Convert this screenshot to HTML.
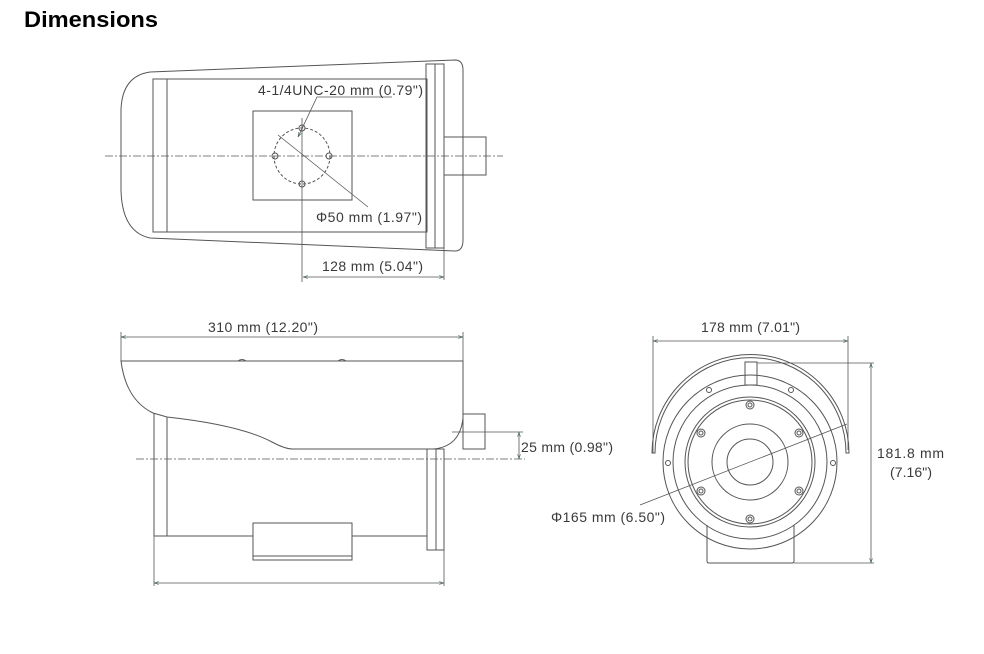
<!DOCTYPE html>
<html><head><meta charset="utf-8"><style>
html,body{margin:0;padding:0;background:#fff;}
svg{display:block;}
text{font-family:"Liberation Sans",sans-serif;fill:#3a3a3a;}
</style></head><body>
<svg width="984" height="654" viewBox="0 0 984 654" xmlns="http://www.w3.org/2000/svg">
<defs>
<marker id="a" viewBox="0 0 10 10" refX="10" refY="5" markerWidth="6" markerHeight="6" orient="auto-start-reverse"><path d="M0,2 L10,5 L0,8" fill="none" stroke="#466" stroke-width="1.2"/></marker>
</defs>
<text x="24" y="27" font-size="22" font-weight="bold" style="fill:#000" textLength="134" lengthAdjust="spacingAndGlyphs">Dimensions</text>

<g fill="none" stroke="#555" stroke-width="1">
<!-- TOP VIEW -->
<path d="M455,60 L150,72 Q122,76 121,110 L121,190 Q122,232 150,238 L455,251 Q463,251 463,240 L463,70 Q463,60 455,60 Z"/>
<rect x="153" y="79" width="274" height="153"/>
<line x1="167" y1="79" x2="167" y2="232"/>
<rect x="426" y="64" width="18" height="184"/>
<line x1="435" y1="64" x2="435" y2="248"/>
<rect x="444" y="137" width="42" height="38"/>
<rect x="253" y="111" width="99" height="89"/>
<circle cx="302" cy="156" r="28" stroke-dasharray="3,2"/>
<circle cx="302" cy="128" r="3"/><circle cx="275" cy="156" r="3"/><circle cx="329" cy="156" r="3"/><circle cx="302" cy="184" r="3"/>
<line x1="105" y1="156" x2="503" y2="156" stroke-dasharray="8,2,2,2" stroke-width="0.8"/>
<line x1="302" y1="118" x2="302" y2="282" stroke-width="0.8"/>
<line x1="278" y1="135" x2="368" y2="207" stroke-width="0.8"/>
<polyline points="392,97 317,97 298,137" stroke-width="0.8" marker-end="url(#a)"/>
<line x1="303" y1="277" x2="444" y2="277" stroke-width="0.8" marker-start="url(#a)" marker-end="url(#a)"/>
<line x1="444" y1="248" x2="444" y2="280" stroke-width="0.8"/>

<!-- SIDE VIEW -->
<line x1="121" y1="337" x2="463" y2="337" stroke-width="0.8" marker-start="url(#a)" marker-end="url(#a)"/>
<line x1="121" y1="332" x2="121" y2="362" stroke-width="0.8"/>
<line x1="463" y1="332" x2="463" y2="362" stroke-width="0.8"/>
<path d="M121,361 L463,361 L463,418 Q460,447 433,449 L293,449 Q285,449 272,442 Q240,425 167,417 L153,413 Q126,400 121,361 Z"/>
<path d="M238,361 Q242,358 246,361 M338,361 Q342,358 346,361"/>
<rect x="463" y="414" width="22" height="35"/>
<line x1="154" y1="413" x2="154" y2="536"/>
<line x1="167" y1="417" x2="167" y2="536"/>
<line x1="154" y1="536" x2="253" y2="536"/>
<line x1="352" y1="536" x2="427" y2="536"/>
<rect x="253" y="523" width="99" height="37"/>
<line x1="253" y1="556" x2="352" y2="556"/>
<rect x="427" y="449" width="9" height="101"/>
<rect x="436" y="449" width="8" height="101"/>
<line x1="136" y1="459" x2="525" y2="459" stroke-dasharray="8,2,2,2" stroke-width="0.8"/>
<line x1="452" y1="432" x2="523" y2="432" stroke-width="0.8"/>
<line x1="519" y1="432" x2="519" y2="459" stroke-width="0.8" marker-start="url(#a)" marker-end="url(#a)"/>
<line x1="154" y1="583" x2="444" y2="583" stroke-width="0.8" marker-start="url(#a)" marker-end="url(#a)"/>
<line x1="154" y1="536" x2="154" y2="586" stroke-width="0.8"/>
<line x1="444" y1="550" x2="444" y2="586" stroke-width="0.8"/>

<!-- FRONT VIEW -->
<line x1="653" y1="341" x2="848" y2="341" stroke-width="0.8" marker-start="url(#a)" marker-end="url(#a)"/>
<line x1="653" y1="336" x2="653" y2="453" stroke-width="0.8"/>
<line x1="848" y1="336" x2="848" y2="450" stroke-width="0.8"/>
<path d="M652,453 A98,98 0 0 1 849,453 L846,453 A95,95 0 0 0 655,453 Z"/>
<circle cx="750" cy="462" r="87"/>
<circle cx="750" cy="462" r="77"/>
<circle cx="750" cy="462" r="65"/>
<circle cx="750" cy="462" r="62"/>
<circle cx="750" cy="462" r="38"/>
<circle cx="750" cy="462" r="23"/>
<rect x="745" y="362" width="12" height="23"/>
<path d="M707,525 L707,561 Q707,563 709,563 L792,563 Q794,563 794,561 L794,525"/>
<line x1="757" y1="363" x2="874" y2="363" stroke-width="0.8"/>
<line x1="794" y1="563" x2="874" y2="563" stroke-width="0.8"/>
<line x1="871" y1="363" x2="871" y2="563" stroke-width="0.8" marker-start="url(#a)" marker-end="url(#a)"/>
<line x1="640" y1="505" x2="847" y2="424" stroke-width="0.8"/>
<g>
<circle cx="750" cy="405" r="4"/><circle cx="750" cy="405" r="2"/>
<circle cx="701" cy="433" r="4"/><circle cx="701" cy="433" r="2"/>
<circle cx="799" cy="433" r="4"/><circle cx="799" cy="433" r="2"/>
<circle cx="701" cy="491" r="4"/><circle cx="701" cy="491" r="2"/>
<circle cx="799" cy="491" r="4"/><circle cx="799" cy="491" r="2"/>
<circle cx="750" cy="519" r="4"/><circle cx="750" cy="519" r="2"/>
</g>
<circle cx="709" cy="390" r="2.5"/><circle cx="791" cy="390" r="2.5"/>
<circle cx="668" cy="463" r="2.5"/><circle cx="833" cy="463" r="2.5"/>
</g>

<g font-size="14" lengthAdjust="spacingAndGlyphs">
<text x="258" y="95" textLength="165">4-1/4UNC-20 mm (0.79")</text>
<text x="316" y="222" textLength="106">Φ50 mm (1.97")</text>
<text x="322" y="271" textLength="101">128 mm (5.04")</text>
<text x="208" y="332" textLength="110">310 mm (12.20")</text>
<text x="521" y="452" textLength="92">25 mm (0.98")</text>
<text x="551" y="522" textLength="114">Φ165 mm (6.50")</text>
<text x="701" y="332" textLength="99">178 mm (7.01")</text>
<text x="877" y="458" textLength="67">181.8 mm</text>
<text x="890" y="477" textLength="42">(7.16")</text>
</g>
</svg>
</body></html>
